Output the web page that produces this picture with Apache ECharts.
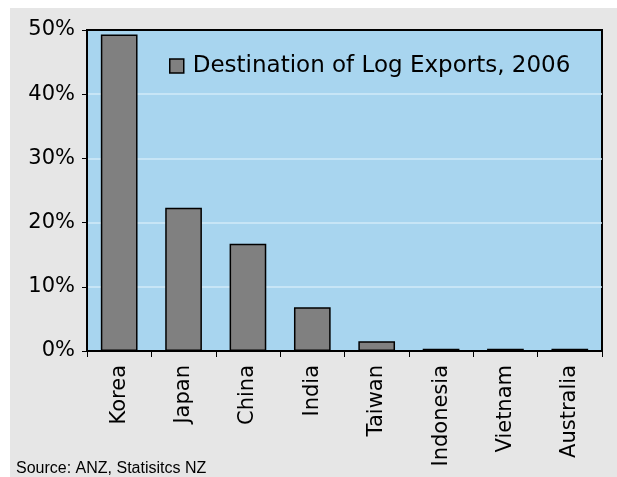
<!DOCTYPE html>
<html>
<head>
<meta charset="utf-8">
<script src="https://cdn.jsdelivr.net/npm/echarts@6/dist/echarts.min.js"></script>
<style>html,body{margin:0;padding:0;background:#fff;}#c{width:617px;height:477px;}</style>
</head>
<body>
<div id="c"></div>
<script>
const categories = ['Korea', 'Japan', 'China', 'India', 'Taiwan', 'Indonesia', 'Vietnam', 'Australia'];
const values = [49.3, 22.3, 16.7, 6.8, 1.5, 0.35, 0.35, 0.35];
const seriesName = 'Destination of Log Exports, 2006';
const yTicks = { min: 0, max: 50, interval: 10 };
const sourceText = 'Source: ANZ, Statisitcs NZ';

const chart = echarts.init(document.getElementById('c'), null, { renderer: 'canvas' });
const FONT = 'DejaVu Sans';
const GRID_C = '#d2eaf8';
chart.setOption({
  animation: false,
  backgroundColor: '#ffffff',
  graphic: [
    { type: 'rect', z: -10, shape: { x: 10, y: 8, width: 607, height: 469 }, style: { fill: '#e6e6e6' } },
    { type: 'text', left: 16, top: 461, style: { text: sourceText, font: '16px "Liberation Sans"', fill: '#000' } }
  ],
  grid: {
    left: 87, right: 15, top: 30, bottom: 126,
    show: true, backgroundColor: '#a8d5ef', borderColor: '#000', borderWidth: 2
  },
  legend: {
    left: 169, top: 53, padding: 0,
    itemWidth: 14, itemHeight: 14,
    icon: 'rect',
    itemStyle: { color: '#808080', borderColor: '#000', borderWidth: 1.5 },
    textStyle: { fontFamily: FONT, fontSize: 23, color: '#000', lineHeight: 26, padding: [0, 0, 0, 4] },
    data: [seriesName]
  },
  xAxis: [{
    type: 'category',
    data: categories,
    z: 10,
    axisLine: { show: true, lineStyle: { color: '#000', width: 2 } },
    axisTick: { show: true, alignWithLabel: false, length: 6, lineStyle: { color: '#000', width: 1 } },
    axisLabel: { rotate: 90, margin: 14, fontFamily: FONT, fontSize: 21, color: '#000', interval: 0 }
  }],
  yAxis: [{
    type: 'value',
    min: yTicks.min, max: yTicks.max, interval: yTicks.interval,
    axisLine: { show: true, lineStyle: { color: '#000', width: 1 } },
    axisTick: { show: true, length: 5, lineStyle: { color: '#000' } },
    axisLabel: { formatter: '{value}%', margin: 12, fontFamily: FONT, fontSize: 21, color: '#000' },
    splitLine: { show: true, lineStyle: { color: ['#000', GRID_C, GRID_C, GRID_C, GRID_C, '#000'], width: 1.5 } }
  }],
  series: [{
    name: seriesName,
    type: 'bar',
    data: values,
    barWidth: '57%',
    itemStyle: { color: '#808080', borderColor: '#000', borderWidth: 1.5 }
  }]
});
</script>
</body>
</html>
